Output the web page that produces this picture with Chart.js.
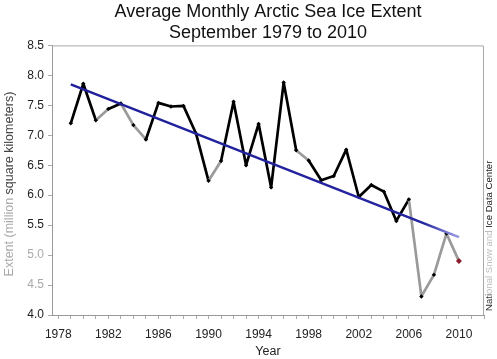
<!DOCTYPE html>
<html>
<head>
<meta charset="utf-8">
<script src="https://cdn.jsdelivr.net/npm/chart.js@4.4.1/dist/chart.umd.min.js"></script>
<style>
  html, body { margin: 0; padding: 0; background: #fff; }
  #wrap { width: 497px; height: 359px; }
</style>
</head>
<body>
<div id="wrap"><canvas id="grafico" width="497" height="359"></canvas></div>
<script>
// setembro, extensao media (milhoes de km2)
const anos = [1979, 1980, 1981, 1982, 1983, 1984, 1985, 1986, 1987, 1988,
  1989, 1990, 1991, 1992, 1993, 1994, 1995, 1996, 1997, 1998,
  1999, 2000, 2001, 2002, 2003, 2004, 2005, 2006, 2007, 2008, 2009, 2010];
const extensao = [7.20, 7.86, 7.25, 7.44, 7.53, 7.17, 6.93, 7.54, 7.48, 7.49,
  7.03, 6.24, 6.57, 7.56, 6.50, 7.19, 6.13, 7.88, 6.75, 6.58,
  6.25, 6.32, 6.76, 5.97, 6.17, 6.06, 5.57, 5.93, 4.31, 4.67, 5.36, 4.90];
const tendenciaAnos = [1979, 2010];
const tendenciaValores = [7.85, 5.30];
const anosRotulo = [1978, 1982, 1986, 1990, 1994, 1998, 2002, 2006, 2010];
const valoresY = [4.0, 4.5, 5.0, 5.5, 6.0, 6.5, 7.0, 7.5, 8.0, 8.5];

// trechos que aparecem cinza no original (indice do ponto inicial)
const trechosCinza = [2, 4, 5, 11, 18, 27, 28, 29, 30];

const fonte = "'Liberation Sans', Arial, sans-serif";

function textoVertical(ctx, x, yBase, partes, font, centrar) {
  ctx.save();
  ctx.font = font;
  const total = partes.reduce((s, p) => s + ctx.measureText(p[0]).width, 0);
  const y0 = centrar ? yBase + total / 2 : yBase;
  ctx.translate(x, y0);
  ctx.rotate(-Math.PI / 2);
  ctx.textBaseline = 'middle';
  ctx.textAlign = 'left';
  let pos = 0;
  for (const [t, c] of partes) {
    ctx.fillStyle = c;
    ctx.fillText(t, pos, 0);
    pos += ctx.measureText(t).width;
  }
  ctx.restore();
}

const moldura = {
  id: 'moldura',
  beforeDatasetsDraw(chart) {
    const { ctx, chartArea: a } = chart;
    ctx.save();
    ctx.strokeStyle = '#aaa';
    ctx.lineWidth = 1;
    ctx.beginPath();
    ctx.moveTo(a.left, a.top + 0.5);
    ctx.lineTo(a.right - 0.5, a.top + 0.5);
    ctx.lineTo(a.right - 0.5, a.bottom);
    ctx.stroke();
    ctx.restore();
  },
  afterDraw(chart) {
    const ctx = chart.ctx;
    textoVertical(ctx, 10, 184, [
      ['Extent (million ', '#aaa'],
      ['square kilometers)', '#444']
    ], `12.5px ${fonte}`, true);
    textoVertical(ctx, 489, 311, [
      ['Nati', '#333'],
      ['onal Snow and ', '#bbb'],
      ['Ice Data Center', '#222']
    ], `9.6px ${fonte}`, false);
  }
};

function corTendencia(ctx) {
  const a = ctx.chart.chartArea;
  if (!a) return '#1f1f9a';
  const g = ctx.chart.ctx.createLinearGradient(a.left, 0, a.right, 0);
  g.addColorStop(0, '#1f1f9a');
  g.addColorStop(0.86, '#2424a0');
  g.addColorStop(0.93, '#8f8fdc');
  g.addColorStop(1, '#a9a9e8');
  return g;
}

new Chart(document.getElementById('grafico'), {
  type: 'line',
  data: {
    datasets: [
      {
        label: 'Tendencia',
        data: tendenciaAnos.map((a, i) => ({ x: a, y: tendenciaValores[i] })),
        borderColor: corTendencia,
        borderWidth: 2.5,
        pointRadius: 0,
        order: 0
      },
      {
        label: 'Extensao',
        data: anos.map((a, i) => ({ x: a, y: extensao[i] })),
        borderColor: '#000',
        borderWidth: 2.7,
        borderJoinStyle: 'round',
        segment: {
          borderColor: c => trechosCinza.includes(c.p0DataIndex) ? '#9a9a9a' : '#000'
        },
        pointStyle: 'rectRot',
        pointRadius: c => c.dataIndex === anos.length - 1 ? 3 : 2.2,
        pointBorderWidth: 0,
        pointBackgroundColor: c => c.dataIndex === anos.length - 1 ? '#8b1c2c' : '#000',
        order: 1
      }
    ]
  },
  options: {
    responsive: false,
    animation: false,
    layout: { padding: { left: 0, right: 13, top: 0, bottom: 0 } },
    plugins: {
      legend: { display: false },
      tooltip: { enabled: false },
      title: {
        display: true,
        fullSize: false,
        text: ['Average Monthly Arctic Sea Ice Extent', 'September 1979 to 2010'],
        color: '#111',
        font: { family: fonte, size: 18, weight: 'normal', lineHeight: 1.15 },
        padding: { top: 2, bottom: 2 }
      }
    },
    scales: {
      x: {
        type: 'linear',
        min: 1977.5,
        max: 2012,
        afterBuildTicks: ax => {
          const t = [];
          for (let a = 1978; a <= 2012; a++) t.push({ value: a });
          ax.ticks = t;
        },
        afterFit: ax => { ax.height = 44; },
        ticks: {
          autoSkip: false,
          maxRotation: 0,
          padding: 8,
          color: '#222',
          font: { family: fonte, size: 12 },
          callback: v => anosRotulo.includes(v) ? String(v) : ''
        },
        grid: { drawOnChartArea: false, color: '#aaa', tickLength: 4 },
        border: { color: '#999' },
        title: {
          display: true,
          text: 'Year',
          color: '#222',
          font: { family: fonte, size: 12.5 },
          padding: { top: 0, bottom: 0 }
        }
      },
      y: {
        min: 4,
        max: 8.5,
        afterBuildTicks: ax => { ax.ticks = valoresY.map(v => ({ value: v })); },
        afterFit: ax => { ax.width = 52; },
        ticks: {
          padding: 4,
          font: { family: fonte, size: 12 },
          color: c => (c.tick.value === 5 || c.tick.value === 4.5) ? '#aaa' : '#222',
          callback: v => Number(v).toFixed(1)
        },
        grid: { drawOnChartArea: false, color: '#aaa', tickLength: 4 },
        border: { color: '#999' }
      }
    }
  },
  plugins: [moldura]
});
</script>
</body>
</html>
